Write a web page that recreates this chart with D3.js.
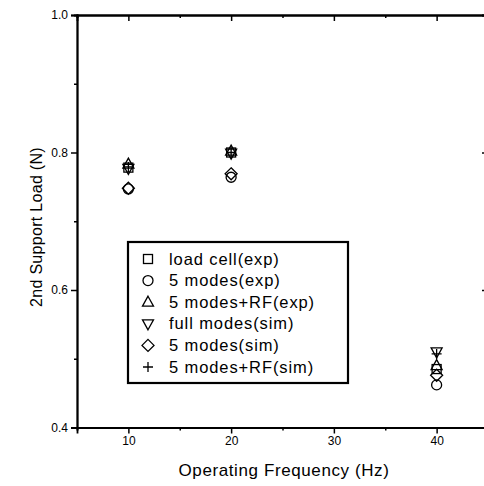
<!DOCTYPE html>
<html>
<head>
<meta charset="utf-8">
<script src="https://cdn.jsdelivr.net/npm/d3@7"></script>
<style>
  body { margin: 0; background: #fff; }
  svg { font-family: "Liberation Sans", Arial, sans-serif; }
</style>
</head>
<body>
<svg width="484" height="486"></svg>
<script>
// data
const freqs = [10, 20, 40];
const loadCellExp  = [0.778, 0.800, 0.485];
const modes5Exp    = [0.747, 0.764, 0.462];
const modes5RFExp  = [0.783, 0.802, 0.490];
const fullModesSim = [0.777, 0.799, 0.510];
const modes5Sim    = [0.748, 0.769, 0.476];
const modes5RFSim  = [0.779, 0.800, 0.507];

const xTicks = [10, 20, 30, 40];
const xMinor = [5, 15, 25, 35, 45];
const yTicks = [0.4, 0.6, 0.8, 1.0];
const yMinor = [0.5, 0.7, 0.9];

const series = [
   {name: "load cell(exp)",   values: loadCellExp,  sym: "square"},
   {name: "5 modes(exp)",     values: modes5Exp,    sym: "circle"},
   {name: "5 modes+RF(exp)",  values: modes5RFExp,  sym: "triUp"},
   {name: "full modes(sim)",  values: fullModesSim, sym: "triDown"},
   {name: "5 modes(sim)",     values: modes5Sim,    sym: "diamond"},
   {name: "5 modes+RF(sim)",  values: modes5RFSim,  sym: "plus"}
];

const svg = d3.select("svg");
const area = {left: 77, right: 488, top: 15, bottom: 427.5};

const scX = d3.scaleLinear().domain([5, 45]).range([area.left, area.right]);
const scY = d3.scaleLinear().domain([0.4, 1.0]).range([area.bottom, area.top]);

// axes: bottom/left ticks outward, top/right ticks inward
svg.append("g")
   .attr("transform", `translate(0, ${area.bottom})`)
   .call(d3.axisBottom(scX).tickValues(xTicks).tickSize(6).tickPadding(3).tickFormat(d3.format("d")))
   .call(g => g.selectAll("text").attr("font-size", 12).attr("fill", "#000"));
svg.append("g")
   .attr("transform", `translate(0, ${area.bottom})`)
   .call(d3.axisBottom(scX).tickValues(xMinor).tickSize(3).tickFormat(""));

svg.append("g")
   .attr("transform", `translate(${area.left}, 0)`)
   .call(d3.axisLeft(scY).tickValues(yTicks).tickSize(6).tickPadding(3).tickFormat(d3.format(".1f")))
   .call(g => g.selectAll("text").attr("font-size", 12).attr("fill", "#000"));
svg.append("g")
   .attr("transform", `translate(${area.left}, 0)`)
   .call(d3.axisLeft(scY).tickValues(yMinor).tickSize(3).tickFormat(""));

svg.append("g")
   .attr("transform", `translate(0, ${area.top})`)
   .call(d3.axisTop(scX).tickValues(xTicks).tickSize(-6).tickFormat(""));
svg.append("g")
   .attr("transform", `translate(0, ${area.top})`)
   .call(d3.axisTop(scX).tickValues(xMinor).tickSize(-3).tickFormat(""));

svg.append("g")
   .attr("transform", `translate(${area.right}, 0)`)
   .call(d3.axisRight(scY).tickValues(yTicks).tickSize(-6).tickFormat(""));
svg.append("g")
   .attr("transform", `translate(${area.right}, 0)`)
   .call(d3.axisRight(scY).tickValues(yMinor).tickSize(-3).tickFormat(""));

svg.selectAll(".domain").attr("stroke", "#000").attr("stroke-width", 1.8);
svg.selectAll(".tick line").attr("stroke", "#000").attr("stroke-width", 1.5);

// axis titles
svg.append("text")
   .attr("x", 284).attr("y", 476)
   .attr("text-anchor", "middle").attr("font-size", 17).attr("letter-spacing", 0.6)
   .text("Operating Frequency (Hz)");
svg.append("text")
   .attr("transform", "translate(42, 227) rotate(-90)")
   .attr("text-anchor", "middle").attr("font-size", 16).attr("letter-spacing", 0.3)
   .text("2nd Support Load (N)");

// symbols
function drawSymbol(g, sym, x, y) {
   const st = {fill: "none", stroke: "#000", "stroke-width": 1.3};
   let el;
   if (sym == "circle") {
      el = g.append("circle").attr("cx", x).attr("cy", y).attr("r", 5);
   } else if (sym == "square") {
      el = g.append("rect").attr("x", x - 4.5).attr("y", y - 4.5).attr("width", 9).attr("height", 9);
   } else if (sym == "triUp") {
      el = g.append("path").attr("d", `M${x},${y - 6}L${x + 5.5},${y + 4}L${x - 5.5},${y + 4}Z`);
   } else if (sym == "triDown") {
      el = g.append("path").attr("d", `M${x},${y + 6}L${x + 5.5},${y - 4}L${x - 5.5},${y - 4}Z`);
   } else if (sym == "diamond") {
      el = g.append("path").attr("d", `M${x},${y - 6}L${x + 6},${y}L${x},${y + 6}L${x - 6},${y}Z`);
   } else {
      el = g.append("path").attr("d", `M${x - 5},${y}H${x + 5}M${x},${y - 5}V${y + 5}`);
   }
   for (const k in st) el.attr(k, st[k]);
}

const marks = svg.append("g");
series.forEach(s => {
   s.values.forEach((v, i) => drawSymbol(marks, s.sym, scX(freqs[i]), scY(v)));
});

// legend
const leg = svg.append("g");
leg.append("rect")
   .attr("x", 128).attr("y", 242).attr("width", 220).attr("height", 141)
   .attr("fill", "#fff").attr("stroke", "#000").attr("stroke-width", 2.2);
series.forEach((s, i) => {
   const y = 259 + i * 21.6;
   drawSymbol(leg, s.sym, 148, y);
   leg.append("text")
      .attr("x", 169).attr("y", y + 5.5)
      .attr("font-size", 16.5).attr("letter-spacing", 0.9)
      .text(s.name);
});
</script>
</body>
</html>
